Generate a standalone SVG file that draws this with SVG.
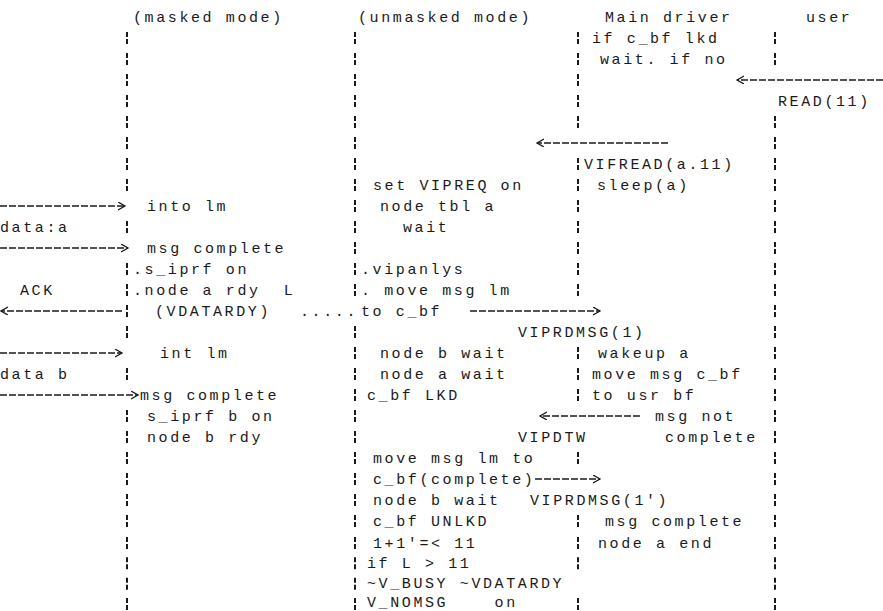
<svg xmlns="http://www.w3.org/2000/svg" width="883" height="611" viewBox="0 0 883 611" xml:space="preserve">
<style>
text{font-family:"Liberation Mono","DejaVu Sans Mono",monospace;font-size:15px;letter-spacing:2.6px;fill:#1a1a1a;white-space:pre;}
.lane{stroke:#1a1a1a;stroke-width:2;stroke-dasharray:5 2 5 9;fill:none;}
.lane2{stroke:#1a1a1a;stroke-width:2;stroke-dasharray:5 2 5 8.33;fill:none;}
.arr{stroke:#1a1a1a;stroke-width:1.3;stroke-dasharray:7 2;fill:none;}
</style>
<defs>
<marker id="hd" markerUnits="userSpaceOnUse" markerWidth="10" markerHeight="10" refX="7" refY="4" orient="auto">
<path d="M0,0 L7,4 L0,8" fill="none" stroke="#1a1a1a" stroke-width="1.3"/>
</marker>
</defs>
<rect width="883" height="611" fill="#fff"/>
<g id="connectors">
<g id="lifelines">
<line class="lane" x1="127" y1="32" x2="127" y2="191"/>
<line class="lane" x1="127" y1="221" x2="127" y2="233"/>
<line class="lane" x1="127" y1="263" x2="127" y2="338"/>
<line class="lane" x1="127" y1="368" x2="127" y2="380"/>
<line class="lane" x1="127" y1="410" x2="127" y2="527"/>
<line class="lane2" x1="127" y1="537" x2="127" y2="610"/>
<line class="lane" x1="355" y1="32" x2="355" y2="296"/>
<line class="lane" x1="355" y1="326" x2="355" y2="527"/>
<line class="lane2" x1="355" y1="537" x2="355" y2="610"/>
<line class="lane" x1="578" y1="32" x2="578" y2="128"/>
<line class="lane" x1="578" y1="158" x2="578" y2="296"/>
<line class="lane" x1="578" y1="347" x2="578" y2="401"/>
<line class="lane" x1="578" y1="452" x2="578" y2="464"/>
<line class="lane" x1="578" y1="515" x2="578" y2="527"/>
<line class="lane2" x1="578" y1="537" x2="578" y2="570"/>
<line class="lane2" x1="578" y1="598" x2="578" y2="610"/>
<line class="lane" x1="775" y1="32" x2="775" y2="65"/>
<line class="lane" x1="775" y1="116" x2="775" y2="527"/>
<line class="lane2" x1="775" y1="537" x2="775" y2="610"/>
</g>
<g id="arrows">
<line class="arr" x1="883" y1="80" x2="737" y2="80" marker-end="url(#hd)"/>
<line class="arr" x1="668" y1="143" x2="537" y2="143" marker-end="url(#hd)"/>
<line class="arr" x1="0" y1="206" x2="125" y2="206" marker-end="url(#hd)"/>
<line class="arr" x1="0" y1="248" x2="128" y2="248" marker-end="url(#hd)"/>
<line class="arr" x1="122" y1="311" x2="1" y2="311" marker-end="url(#hd)"/>
<line class="arr" x1="470" y1="311" x2="600" y2="311" marker-end="url(#hd)"/>
<line class="arr" x1="0" y1="353" x2="122" y2="353" marker-end="url(#hd)"/>
<line class="arr" x1="0" y1="395" x2="138" y2="395" marker-end="url(#hd)"/>
<line class="arr" x1="640" y1="416" x2="540" y2="416" marker-end="url(#hd)"/>
<line class="arr" x1="535" y1="479" x2="600" y2="479" marker-end="url(#hd)"/>
</g>
</g>
<g id="masked">
<text x="133" y="21.5">(masked mode)</text>
<text x="147" y="210.5">into lm</text>
<text x="0" y="231.5">data:a</text>
<text x="147" y="252.5">msg complete</text>
<text x="133" y="273.5">.s_iprf on</text>
<text x="20" y="294.5">ACK</text>
<text x="133" y="294.5">.node a rdy  L</text>
<text x="155" y="315.5">(VDATARDY)</text>
<text x="300" y="315.5">.....</text>
<text x="160" y="357.5">int lm</text>
<text x="0" y="378.5">data b</text>
<text x="140" y="399.5">msg complete</text>
<text x="147" y="420.5">s_iprf b on</text>
<text x="147" y="441.5">node b rdy</text>
</g>
<g id="unmasked">
<text x="358" y="21.5">(unmasked mode)</text>
<text x="373" y="189.5">set VIPREQ on</text>
<text x="380" y="210.5">node tbl a</text>
<text x="403" y="231.5">wait</text>
<text x="361" y="273.5">.vipanlys</text>
<text x="361" y="294.5">. move msg lm</text>
<text x="361" y="315.5">to c_bf</text>
<text x="380" y="357.5">node b wait</text>
<text x="380" y="378.5">node a wait</text>
<text x="367" y="399.5">c_bf LKD</text>
<text x="373" y="462.5">move msg lm to</text>
<text x="373" y="483.5">c_bf(complete)</text>
<text x="373" y="504.5">node b wait</text>
<text x="373" y="525.5">c_bf UNLKD</text>
<text x="373" y="547.5">1+1'=&lt; 11</text>
<text x="367" y="567.8">if L &gt; 11</text>
<text x="367" y="588.2">~V_BUSY ~VDATARDY</text>
<text x="367" y="607">V_NOMSG    on</text>
</g>
<g id="driver">
<text x="605" y="21.5">Main driver</text>
<text x="592" y="42.5">if c_bf lkd</text>
<text x="600" y="63.5">wait. if no</text>
<text x="584" y="168.5">VIFREAD(a.11)</text>
<text x="597" y="189.5">sleep(a)</text>
<text x="518" y="336.5">VIPRDMSG(1)</text>
<text x="598" y="357.5">wakeup a</text>
<text x="592" y="378.5">move msg c_bf</text>
<text x="592" y="399.5">to usr bf</text>
<text x="655" y="420.5">msg not</text>
<text x="518" y="441.5">VIPDTW</text>
<text x="665" y="441.5">complete</text>
<text x="530" y="504.5">VIPRDMSG(1')</text>
<text x="605" y="525.5">msg complete</text>
<text x="598" y="547.5">node a end</text>
</g>
<g id="user">
<text x="806" y="21.5">user</text>
<text x="778" y="105.5">READ(11)</text>
</g>
</svg>
